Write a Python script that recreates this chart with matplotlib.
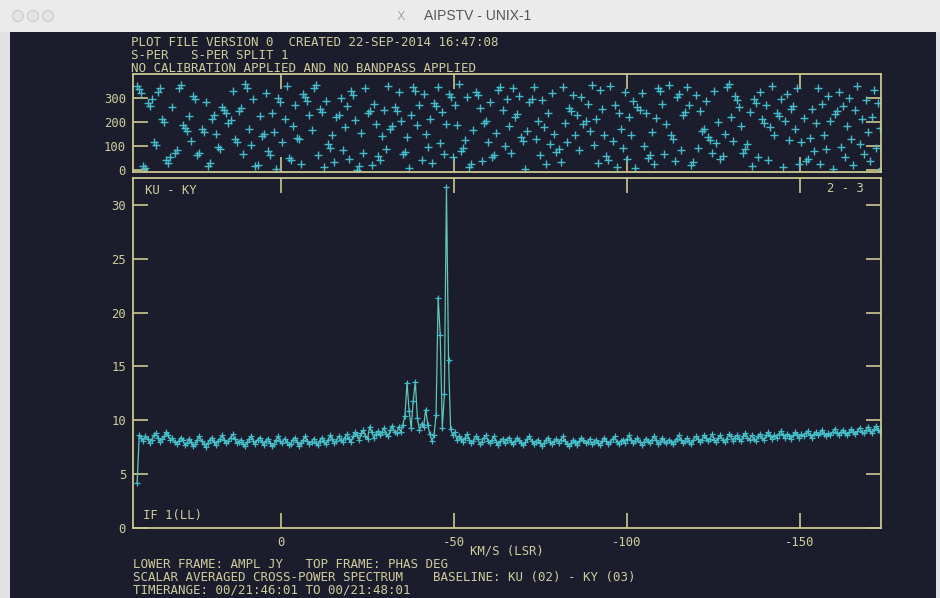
import numpy as np
import matplotlib
matplotlib.use("Agg")
import matplotlib.pyplot as plt
from matplotlib.patches import Rectangle, Ellipse

# ---- spectral axis (channel 1 velocity and channel width, km/s LSR) ----
V_START = 41.6
CHAN_WIDTH = -0.6

# ---- lower frame: amplitude (Jy), one value per channel ----
amp_jy = [
    4.2, 8.6, 8.4, 8.1, 8.5, 8.3, 7.9, 8.2, 8.6, 8.8, 8.4, 8.0, 8.3, 8.5, 8.9, 8.6, 8.2, 8.4, 8.0, 7.8,
    8.1, 8.4, 8.2, 7.7, 7.9, 8.3, 8.0, 7.6, 7.8, 8.2, 8.5, 8.1, 7.8, 7.5, 7.9, 8.2, 8.4, 8.0, 7.7, 8.1,
    8.3, 8.6, 8.2, 7.9, 8.1, 8.4, 8.7, 8.3, 7.9, 8.0, 8.2, 7.8, 7.6, 8.0, 8.3, 8.5, 8.1, 7.8, 8.2, 8.4,
    8.0, 7.7, 8.1, 8.3, 7.9, 7.6, 7.8, 8.2, 8.5, 8.1, 7.9, 8.3, 8.0, 7.7, 7.8, 8.2, 8.4, 8.0, 7.6, 7.9,
    8.2, 8.5, 8.1, 7.8, 8.0, 8.3, 7.9, 7.7, 8.1, 8.4, 8.0, 7.8, 8.2, 8.6, 8.3, 7.9, 8.1, 8.5, 8.2, 8.0,
    8.4, 8.7, 8.3, 8.0, 8.5, 8.9, 8.6, 8.2, 8.8, 9.1, 8.5, 8.3, 9.4, 8.9, 8.4, 8.7, 9.0, 8.6, 8.9, 9.3,
    8.7, 8.5, 9.1, 9.5, 8.9,
    8.8, 9.4, 8.9, 9.6, 10.4, 13.5, 10.9, 9.3, 11.8, 13.6, 10.2, 9.1, 9.7, 9.4, 11.0, 9.6,
    8.7, 8.1, 8.6, 10.5, 21.4, 17.9, 9.3, 12.4, 31.7, 15.6, 9.2, 8.6, 8.9, 8.2, 8.5,
    8.3, 8.0, 8.4, 8.7, 8.2, 7.9, 8.1, 8.5, 8.3, 7.8, 8.0, 8.4, 8.6, 8.1, 7.9, 8.2, 8.5, 8.0, 7.7, 8.1,
    8.3, 7.9, 8.2, 8.4,
    8.0, 7.8, 8.1, 8.4, 8.2, 7.9, 7.7, 8.0, 8.3, 8.5, 8.1, 7.8, 8.0, 8.2, 7.9, 7.6, 7.9, 8.2, 8.4, 8.0,
    7.8, 8.1, 8.3, 7.9, 8.2, 8.5, 8.1, 7.8, 7.6, 7.9, 8.2, 8.0, 7.7, 8.1, 8.4, 8.2, 7.9, 8.0, 8.3, 7.8,
    8.0, 8.2, 7.9, 7.7, 8.1, 8.4, 8.1, 7.8, 8.0, 8.3, 8.5, 8.0, 7.8, 8.1, 8.2, 7.9, 8.3, 8.6, 8.2, 7.9,
    8.1, 8.4, 8.0, 7.7, 8.0, 8.3, 8.1, 7.9, 8.2, 8.5, 8.2, 7.8, 8.0, 8.4, 8.1, 7.9, 8.2, 8.0, 7.8, 8.1,
    8.3, 8.6, 8.2, 7.9, 8.1, 8.4, 8.0, 7.8, 8.2, 8.5, 8.3, 8.0, 8.2, 8.6, 8.4, 8.1, 8.3, 8.7, 8.2, 8.0,
    8.4, 8.6, 8.2, 8.0, 8.3, 8.7, 8.5, 8.1, 8.4, 8.6, 8.3, 8.1, 8.5, 8.8, 8.4, 8.2, 8.6, 8.3, 8.1, 8.5,
    8.7, 8.4, 8.2, 8.6, 8.9, 8.5, 8.3, 8.6, 8.4, 8.7, 9.0, 8.6, 8.4, 8.7, 8.5, 8.3, 8.6, 8.9, 8.6, 8.4,
    8.7, 8.5, 8.8, 9.0, 8.6, 8.4, 8.7, 8.9, 8.6, 8.8, 9.1, 8.7, 8.5, 8.8, 8.6, 8.9, 9.2, 8.8, 8.6, 8.9,
    9.1, 8.8, 8.6, 8.9, 9.2, 8.9, 8.7, 9.0, 9.3, 8.9, 8.8, 9.1, 9.4, 9.0, 8.8, 9.2, 9.5, 9.1, 8.9, 9.2,
]

# ---- top frame: phase (degrees), one value per channel ----
phase_deg = [
    352, 338, 321, 16, 9, 281, 265, 296, 118, 104, 326, 341, 212, 199, 44, 31, 56, 262, 71, 83,
    340, 355, 188, 176, 161, 226, 121, 308, 297, 61, 70, 172, 160, 284, 15, 28, 214, 230, 149, 97,
    88, 263, 250, 236, 195, 210, 331, 128, 115, 246, 258, 66, 359, 343, 171, 103, 294, 19, 22, 226,
    140, 152, 322, 79, 61, 236, 160, 4, 298, 283, 117, 212, 349, 52, 41, 185, 270, 133, 129, 25,
    317, 303, 288, 229, 166, 341, 356, 62, 255, 240, 12, 287, 108, 92, 147, 34, 222, 231, 301, 84,
    178, 265, 47, 328, 312, 210, 2, 18, 155, 72, 341, 236, 248, 21, 277, 191, 57, 44, 143, 250,
    86, 352, 170, 182, 261, 248, 323, 204, 66, 74, 137, 9, 229, 344, 330, 186, 273, 40, 316, 152,
    95, 214, 31, 279, 268, 346, 111, 240, 67, 191, 318, 305, 53, 270, 186, 358, 80, 94, 127, 305,
    12, 24, 167, 324, 311, 257, 38, 194, 206, 116, 282, 55, 61, 153, 333, 347, 249, 101, 296, 182,
    72, 341, 221, 233, 310, 136, 121, 5, 164, 284, 297, 345, 128, 206, 63, 291, 178, 24, 237, 110,
    320, 152, 74, 88, 35, 346, 198, 117, 260, 248, 313, 145, 229, 82, 306, 192, 203, 276, 161, 355,
    104, 213, 29, 334, 256, 144, 59, 43, 350, 121, 271, 11, 238, 170, 93, 327, 48, 219, 146, 288,
    7, 263, 251, 320, 100, 236, 49, 62, 159, 25, 216, 341, 329, 277, 65, 193, 353, 144, 131, 36,
    305, 318, 82, 228, 241, 344, 269, 21, 34, 312, 94, 247, 163, 171, 288, 138, 124, 70, 329, 112,
    200, 46, 58, 150, 344, 357, 219, 123, 308, 293, 261, 184, 73, 86, 107, 241, 19, 294, 281, 56,
    324, 212, 198, 273, 41, 180, 351, 146, 237, 224, 297, 12, 203, 318, 124, 255, 268, 169, 340, 27,
    115, 217, 39, 48, 135, 253, 78, 196, 343, 26, 274, 148, 89, 308, 204, 6, 232, 244, 326, 97,
    267, 53, 183, 300, 131, 20, 249, 352, 110, 214, 68, 290, 157, 38, 223, 335, 92, 278, 174, 10,
]

# ---- axis ticks ----
vel_ticks = [0, -50, -100, -150]
vel_ticklabels = ["0", "-50", "-100", "-150"]
amp_ticks = [0, 5, 10, 15, 20, 25, 30]
phase_ticks = [0, 100, 200, 300]

header_lines = [
    "PLOT FILE VERSION 0  CREATED 22-SEP-2014 16:47:08",
    "S-PER   S-PER SPLIT 1",
    "NO CALIBRATION APPLIED AND NO BANDPASS APPLIED",
]
footer_lines = [
    "LOWER FRAME: AMPL JY   TOP FRAME: PHAS DEG",
    "SCALAR AVERAGED CROSS-POWER SPECTRUM    BASELINE: KU (02) - KY (03)",
    "TIMERANGE: 00/21:46:01 TO 00/21:48:01",
]

velocity = V_START + CHAN_WIDTH * np.arange(len(amp_jy))

# ---- styling ----
SCREEN = "#1b1d2d"
FRAME = "#ccc890"
TEXT = "#d0cc9e"
CROSS = "#44bcca"
TRACE = "#62c6b2"
MONO = "DejaVu Sans Mono"
FS = 8.8

W, H = 940, 598
fig = plt.figure(figsize=(W / 100, H / 100), dpi=100, facecolor="#e2e2e2")


def fx(px):
    return px / W


def fy(py):
    return 1 - py / H


# window chrome
fig.add_artist(Rectangle((0, fy(32)), 1, 32 / H, transform=fig.transFigure,
                         facecolor="#ebebeb", edgecolor="none", zorder=0))
fig.add_artist(Rectangle((fx(10), 0), fx(936) - fx(10), fy(32), transform=fig.transFigure,
                         facecolor=SCREEN, edgecolor="none", zorder=0))
for cx in (18, 33, 48):
    fig.add_artist(Ellipse((fx(cx), fy(16)), 11 / W, 11 / H, transform=fig.transFigure,
                           facecolor="#e4e4e4", edgecolor="#c8c8c8", lw=0.8, zorder=1))
fig.text(fx(401), fy(16), "X", color="#777777", fontsize=9, ha="center", va="center",
         family="DejaVu Sans", fontweight="light")
fig.text(fx(478), fy(16), "AIPSTV - UNIX-1", color="#555555", fontsize=10,
         ha="center", va="center", family="Liberation Sans")

ax_top = fig.add_axes([fx(133), fy(172), fx(881) - fx(133), fy(74) - fy(172)])
ax_low = fig.add_axes([fx(133), fy(528), fx(881) - fx(133), fy(178) - fy(528)])

for ax in (ax_top, ax_low):
    ax.set_facecolor("none")
    ax.set_xlim(42.8, -173.4)
    for sp in ax.spines.values():
        sp.set_color(FRAME)
        sp.set_linewidth(1.3)
    ax.tick_params(which="both", direction="in", length=11, width=1.2, color=FRAME,
                   labelcolor=TEXT, labelsize=FS, top=True, right=True, pad=5)
    ax.set_xticks(vel_ticks)

# phase frame
ax_top.plot(velocity, phase_deg, linestyle="none", marker="+", ms=5.5, mew=1.0, color=CROSS)
ax_top.set_ylim(-8, 400)
ax_top.set_yticks(phase_ticks)
ax_top.set_yticklabels([str(t) for t in phase_ticks], family=MONO)
ax_top.set_xticklabels([])

# amplitude frame
ax_low.plot(velocity, amp_jy, color=TRACE, lw=0.9, marker="+", ms=5, mew=0.9,
            mec=CROSS, mfc=CROSS)
ax_low.set_ylim(0, 32.5)
ax_low.set_yticks(amp_ticks)
ax_low.set_yticklabels([str(t) for t in amp_ticks], family=MONO)
ax_low.set_xticklabels(vel_ticklabels, family=MONO)
ax_low.tick_params(axis="x", pad=6)

# frame annotations
fig.text(fx(145), fy(190), "KU - KY", color=TEXT, fontsize=FS, family=MONO, va="center")
fig.text(fx(864), fy(188), "2 - 3", color=TEXT, fontsize=FS, family=MONO, va="center", ha="right")
fig.text(fx(143), fy(516), "IF 1(LL)", color=TEXT, fontsize=FS, family=MONO, va="center")
fig.text(fx(470), fy(551), "KM/S (LSR)", color=TEXT, fontsize=FS, family=MONO, va="center")

for i, line in enumerate(header_lines):
    fig.text(fx(131), fy(43 + 12.5 * i), line, color=TEXT, fontsize=9.0, family=MONO, va="center")
for i, line in enumerate(footer_lines):
    fig.text(fx(133), fy(564 + 13 * i), line, color=TEXT, fontsize=9.0, family=MONO, va="center")

fig.savefig("out.png", dpi=100, facecolor=fig.get_facecolor())
